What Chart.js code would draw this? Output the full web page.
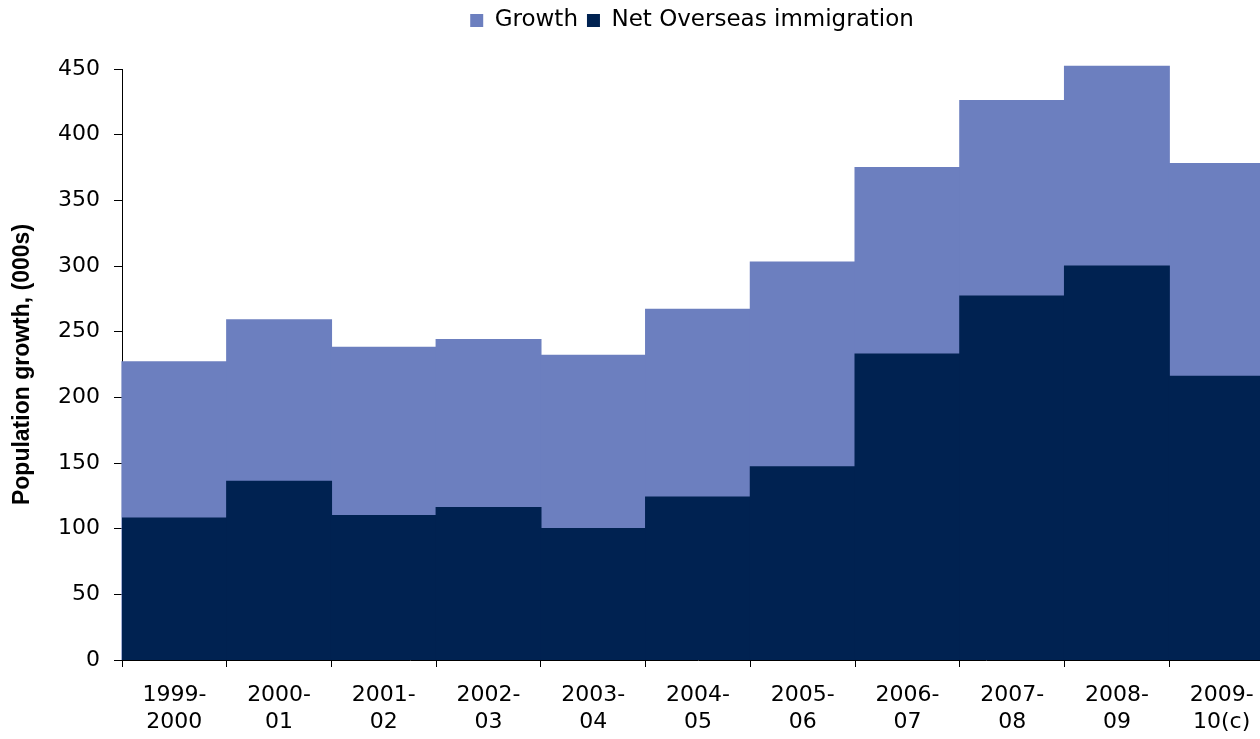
<!DOCTYPE html>
<html lang="en">
<head>
    <meta charset="UTF-8">
    <title>Population growth and net overseas immigration</title>
    <style>
        html, body {
            margin: 0;
            padding: 0;
            background: #FFFFFF;
            overflow: hidden;
        }
        .chart-box {
            position: absolute;
            left: 0;
            top: 0;
            width: 1274px;
            height: 739px;
        }
    </style>
</head>
<body>
    <div class="chart-box">
        <canvas id="growthChart"></canvas>
    </div>

    <script src="https://cdn.jsdelivr.net/npm/chart.js"></script>
    <script>
        // Financial years (two-line tick labels)
        const years = [
            ['1999-', '2000'], ['2000-', '01'], ['2001-', '02'], ['2002-', '03'],
            ['2003-', '04'], ['2004-', '05'], ['2005-', '06'], ['2006-', '07'],
            ['2007-', '08'], ['2008-', '09'], ['2009-', '10(c)']
        ];

        // Total population growth, thousands
        const growth = [227, 259, 238, 244, 232, 267, 303, 375, 426, 452, 378];

        // Net overseas immigration, thousands
        const netOverseas = [108, 136, 110, 116, 100, 124, 147, 233, 277, 300, 216];

        const growthColor = '#6C7FBF';
        const nomColor = '#002251';
        const tickFont = { family: 'DejaVu Sans', size: 22, lineHeight: 1.22 };

        // legend sits in a taller band and a little right of centre, like the original
        const legendBand = {
            id: 'legendBand',
            afterInit(chart) {
                const legend = chart.legend;
                const fit = legend.fit;
                legend.fit = function () {
                    fit.call(this);
                    this.height = 69;
                };
            },
            afterLayout(chart) {
                chart.legend.left += 55;
                chart.legend.right += 55;
            }
        };

        const ctx = document.getElementById('growthChart').getContext('2d');

        new Chart(ctx, {
            type: 'bar',
            data: {
                labels: years,
                datasets: [
                    {
                        label: 'Growth',
                        data: growth,
                        backgroundColor: growthColor,
                        borderWidth: 0,
                        inflateAmount: 0.6,
                        grouped: false,
                        clip: false,
                        order: 1,
                        barPercentage: 1,
                        categoryPercentage: 1
                    },
                    {
                        label: 'Net Overseas immigration',
                        data: netOverseas,
                        backgroundColor: nomColor,
                        borderWidth: 0,
                        inflateAmount: 0.6,
                        grouped: false,
                        order: 0,
                        barPercentage: 1,
                        categoryPercentage: 1
                    }
                ]
            },
            options: {
                responsive: true,
                maintainAspectRatio: false,
                animation: false,
                layout: {
                    padding: { top: 0, right: 0, bottom: 0, left: 0 }
                },
                plugins: {
                    legend: {
                        position: 'top',
                        labels: {
                            boxWidth: 13,
                            boxHeight: 13,
                            padding: 9,
                            color: '#000000',
                            font: { family: 'DejaVu Sans', size: 23 },
                            sort: (a, b) => a.datasetIndex - b.datasetIndex
                        }
                    },
                    tooltip: { enabled: false }
                },
                scales: {
                    x: {
                        grid: {
                            offset: true,
                            drawOnChartArea: false,
                            color: '#000000',
                            tickLength: 7
                        },
                        border: { color: '#000000', width: 1 },
                        ticks: {
                            color: '#000000',
                            font: tickFont,
                            maxRotation: 0,
                            autoSkip: false,
                            padding: 15
                        },
                        afterFit: (scale) => { scale.height = 79; }
                    },
                    y: {
                        min: 0,
                        max: 450,
                        grid: {
                            drawOnChartArea: false,
                            color: '#000000',
                            tickLength: 8
                        },
                        border: { color: '#000000', width: 1 },
                        ticks: {
                            stepSize: 50,
                            color: '#000000',
                            font: { family: 'DejaVu Sans', size: 22 },
                            padding: 14
                        },
                        title: {
                            display: true,
                            text: 'Population growth, (000s)',
                            color: '#000000',
                            font: { family: 'Liberation Sans', size: 23, weight: 'bold' },
                            padding: { top: 9, bottom: 0 }
                        },
                        afterFit: (scale) => { scale.width = 122; }
                    }
                }
            },
            plugins: [legendBand]
        });
    </script>
</body>
</html>
